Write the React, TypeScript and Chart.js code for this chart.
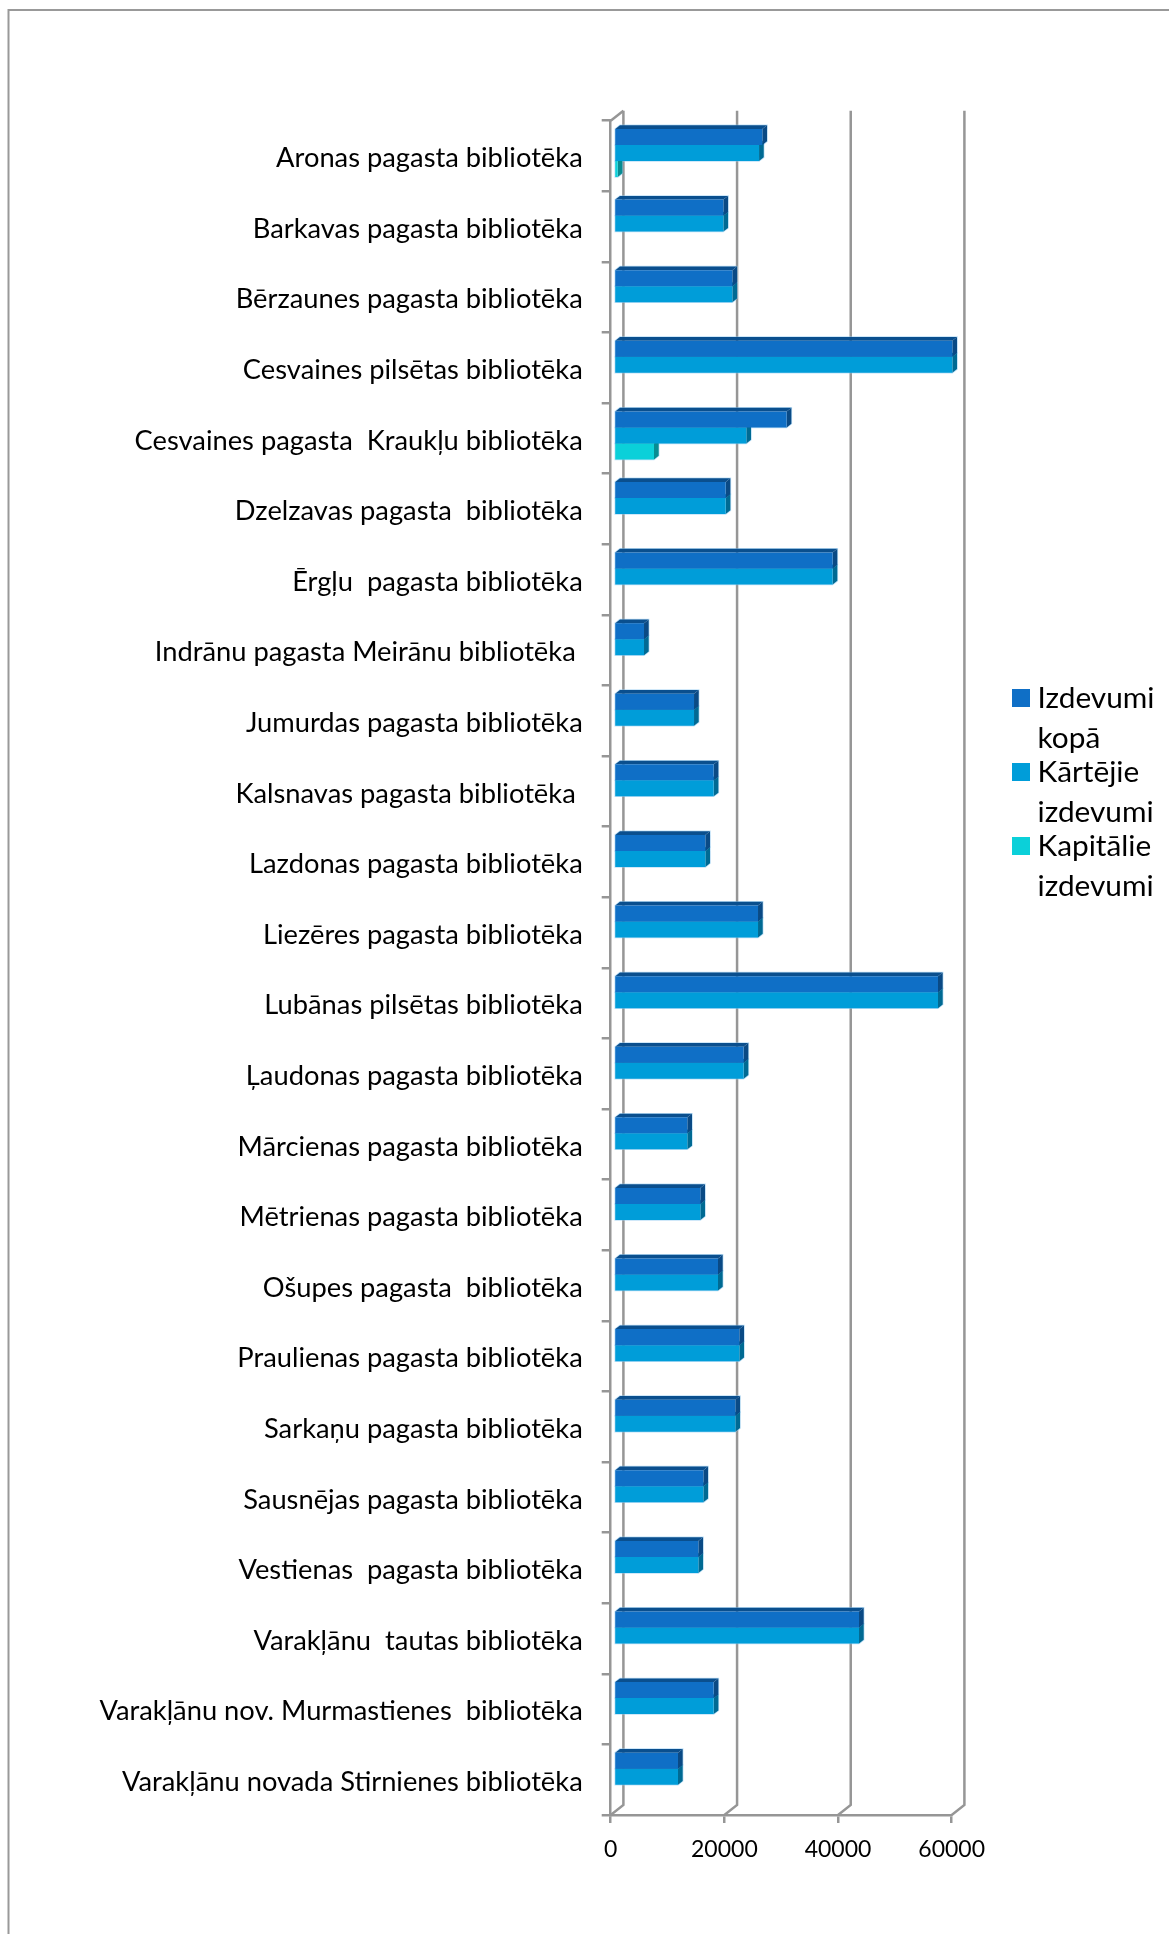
import React, { useEffect, useRef } from "react";
import { Chart, registerables } from "chart.js";

Chart.register(...registerables);

const categories = [
  "Aronas pagasta bibliotēka",
  "Barkavas pagasta bibliotēka",
  "Bērzaunes pagasta bibliotēka",
  "Cesvaines pilsētas bibliotēka",
  "Cesvaines pagasta  Kraukļu bibliotēka",
  "Dzelzavas pagasta  bibliotēka",
  "Ērgļu  pagasta bibliotēka",
  "Indrānu pagasta Meirānu bibliotēka ",
  "Jumurdas pagasta bibliotēka",
  "Kalsnavas pagasta bibliotēka ",
  "Lazdonas pagasta bibliotēka",
  "Liezēres pagasta bibliotēka",
  "Lubānas pilsētas bibliotēka",
  "Ļaudonas pagasta bibliotēka",
  "Mārcienas pagasta bibliotēka",
  "Mētrienas pagasta bibliotēka",
  "Ošupes pagasta  bibliotēka",
  "Praulienas pagasta bibliotēka",
  "Sarkaņu pagasta bibliotēka",
  "Sausnējas pagasta bibliotēka",
  "Vestienas  pagasta bibliotēka",
  "Varakļānu  tautas bibliotēka",
  "Varakļānu nov. Murmastienes  bibliotēka",
  "Varakļānu novada Stirnienes bibliotēka",
];

const izdevumiKopa = [
  26100, 19240, 20820, 59530, 30380, 19650, 38470, 5280, 14080, 17540, 16070, 25340,
  57010, 22810, 12900, 15190, 18300, 22050, 21350, 15720, 14840, 43110, 17540, 11260,
];
const kartejieIzdevumi = [
  25520, 19240, 20820, 59530, 23280, 19650, 38470, 5280, 14080, 17540, 16070, 25340,
  57010, 22810, 12900, 15190, 18300, 22050, 21350, 15720, 14840, 43110, 17540, 11260,
];
const kapitalieIzdevumi = [
  650, 0, 0, 0, 7040, 0, 0, 0, 0, 0, 0, 0, 0, 0, 0, 0, 0, 0, 0, 0, 0, 0, 0, 0,
];

const seriesNames = ["Izdevumi kopā", "Kārtējie izdevumi", "Kapitālie izdevumi"];
const frontColors = ["#0F6FC6", "#009DD9", "#0BD0D9"];
const topColors = ["#0A4F8E", "#00709B", "#07949A"];
const sideColors = ["#0A4A85", "#006A93", "#078C92"];

const GRID = "#969696";
const FONT = "Lato, sans-serif";
const DEPTH_X = 4.7;
const DEPTH_Y = 3.7;
const SHIFT_X = 3.3;
const SHIFT_Y = -3;
const WALL_X = 12.7;
const WALL_Y = 10;
const LABEL_SHIFT = 2.5;

const frame = {
  id: "frame",
  beforeDraw(chart: any) {
    const { ctx, width, height } = chart;
    ctx.save();
    ctx.strokeStyle = "#999999";
    ctx.lineWidth = 2;
    ctx.beginPath();
    ctx.moveTo(8.5, height);
    ctx.lineTo(8.5, 10);
    ctx.lineTo(width, 10);
    ctx.stroke();
    ctx.restore();
    // nudge the category labels down onto the reference's baseline
    chart.scales.y.getLabelItems().forEach((item: any) => {
      if (!item.options.shifted) {
        item.options.translation = [item.options.translation[0], item.options.translation[1] + LABEL_SHIFT];
        item.options.shifted = true;
      }
    });
  },
};

const walls = {
  id: "walls",
  beforeDatasetsDraw(chart: any) {
    const { ctx, chartArea, scales } = chart;
    ctx.save();
    ctx.strokeStyle = GRID;
    ctx.lineWidth = 2.5;
    scales.x.ticks.forEach((t: any) => {
      const x = scales.x.getPixelForValue(t.value);
      ctx.beginPath();
      ctx.moveTo(x, chartArea.bottom);
      ctx.lineTo(x + WALL_X, chartArea.bottom - WALL_Y);
      ctx.lineTo(x + WALL_X, chartArea.top - WALL_Y);
      ctx.stroke();
    });
    const x0 = scales.x.getPixelForValue(0);
    ctx.beginPath();
    ctx.moveTo(x0, chartArea.top);
    ctx.lineTo(x0 + WALL_X, chartArea.top - WALL_Y);
    ctx.stroke();
    ctx.restore();
  },
};

const depth = {
  id: "depth",
  beforeDatasetsDraw(chart: any) {
    const { ctx } = chart;
    ctx.save();
    ctx.translate(SHIFT_X, SHIFT_Y);
    // soft light edge round every block, laid down before any face
    chart.data.datasets.forEach((d: any, i: number) => {
      chart.getDatasetMeta(i).data.forEach((el: any, j: number) => {
        if (!d.data[j]) return;
        const top = el.y - el.height / 2;
        const bottom = el.y + el.height / 2;
        ctx.strokeStyle = "rgba(140,200,240,0.55)";
        ctx.lineWidth = 1.5;
        ctx.beginPath();
        ctx.moveTo(el.base, bottom);
        ctx.lineTo(el.base, top);
        ctx.lineTo(el.base + DEPTH_X, top - DEPTH_Y);
        ctx.lineTo(el.x + DEPTH_X, top - DEPTH_Y);
        ctx.lineTo(el.x + DEPTH_X, bottom - DEPTH_Y);
        ctx.lineTo(el.x, bottom);
        ctx.closePath();
        ctx.stroke();
      });
    });
  },
  afterDatasetsDraw(chart: any) {
    chart.ctx.restore();
  },
  beforeDatasetDraw(chart: any, args: any) {
    const { ctx } = chart;
    const i = args.index;
    args.meta.data.forEach((el: any, j: number) => {
      if (!chart.data.datasets[i].data[j]) return;
      const top = el.y - el.height / 2;
      const bottom = el.y + el.height / 2;
      ctx.fillStyle = topColors[i];
      ctx.beginPath();
      ctx.moveTo(el.base, top);
      ctx.lineTo(el.base + DEPTH_X, top - DEPTH_Y);
      ctx.lineTo(el.x + DEPTH_X, top - DEPTH_Y);
      ctx.lineTo(el.x, top);
      ctx.closePath();
      ctx.fill();
      ctx.fillStyle = sideColors[i];
      ctx.beginPath();
      ctx.moveTo(el.x, top);
      ctx.lineTo(el.x + DEPTH_X, top - DEPTH_Y);
      ctx.lineTo(el.x + DEPTH_X, bottom - DEPTH_Y);
      ctx.lineTo(el.x, bottom);
      ctx.closePath();
      ctx.fill();
    });
  },
};

const legendBlock = {
  id: "legendBlock",
  afterDraw(chart: any) {
    const { ctx } = chart;
    ctx.save();
    ctx.font = `29.8px ${FONT}`;
    ctx.textBaseline = "middle";
    ctx.textAlign = "left";
    const boxY = [689, 763, 837];
    chart.data.datasets.forEach((d: any, i: number) => {
      ctx.fillStyle = frontColors[i];
      ctx.fillRect(1012, boxY[i], 18, 18);
      ctx.fillStyle = "#000000";
      const [first, second] = d.label.split(" ");
      ctx.fillText(first, 1037.5, boxY[i] + 9);
      ctx.fillText(second, 1037.5, boxY[i] + 9 + 40);
    });
    ctx.restore();
  },
};

export default function App() {
  const ref = useRef<HTMLCanvasElement>(null);
  useEffect(() => {
    const c = ref.current!;
    const chart = new Chart(c, {
      type: "bar",
      data: {
        labels: categories,
        datasets: [izdevumiKopa, kartejieIzdevumi, kapitalieIzdevumi].map((data, i) => ({
          label: seriesNames[i],
          data,
          backgroundColor: frontColors[i],
          borderWidth: 0,
          categoryPercentage: 0.68,
          barPercentage: 1,
          clip: false as any,
        })),
      },
      options: {
        indexAxis: "y",
        responsive: false,
        animation: false,
        devicePixelRatio: 1,
        layout: { padding: { left: 0, top: 120.7, right: 217.3, bottom: 0 } },
        plugins: { legend: { display: false }, tooltip: { enabled: false } },
        scales: {
          x: {
            min: 0,
            max: 60000,
            afterFit(s: any) {
              s.height = 119;
            },
            ticks: {
              stepSize: 20000,
              maxRotation: 0,
              padding: 13,
              color: "#000000",
              font: { family: FONT, size: 23 },
              callback: (v: any) => String(v),
            },
            grid: { drawOnChartArea: false, tickLength: 8, color: GRID, lineWidth: 2.5 },
            border: { color: GRID, width: 2.5 },
          },
          y: {
            afterFit(s: any) {
              s.width = 610.7;
            },
            ticks: {
              padding: 19,
              autoSkip: false,
              color: "#000000",
              font: { family: FONT, size: 27.3 },
            },
            grid: { drawOnChartArea: false, tickLength: 9, color: GRID, lineWidth: 2.5 },
            border: { color: GRID, width: 2.5 },
          },
        },
      },
      plugins: [frame, walls, depth, legendBlock],
    } as any);
    return () => chart.destroy();
  }, []);
  return (
    <div style={{ position: "absolute", left: 0, top: 0, width: 1169, height: 1934, background: "#fff" }}>
      <canvas ref={ref} width={1169} height={1934} style={{ display: "block" }} />
    </div>
  );
}
